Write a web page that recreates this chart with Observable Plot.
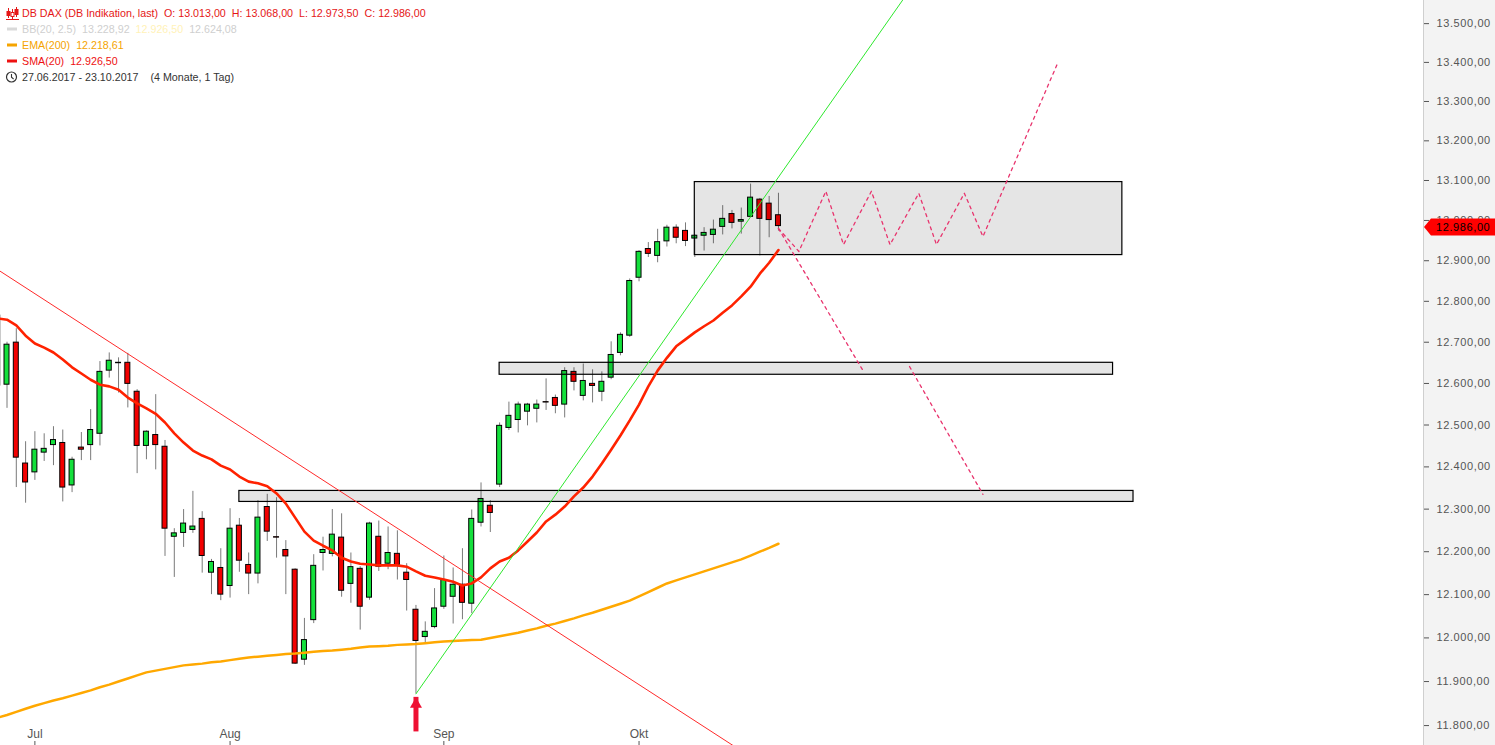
<!DOCTYPE html>
<html>
<head>
<meta charset="utf-8">
<script src="https://cdn.jsdelivr.net/npm/d3@7"></script>
<script src="https://cdn.jsdelivr.net/npm/@observablehq/plot@0.6"></script>
<style>
  body { margin: 0; background: #fff; font-family: "Liberation Sans", Arial, sans-serif; }
  #wrap { position: relative; width: 1495px; height: 745px; overflow: hidden; }
  #legend { position: absolute; left: 0; top: 5px; font-size: 10.7px; line-height: 16px; white-space: nowrap; }
  #legend .row { height: 16px; display: flex; align-items: center; }
  #legend .ic { width: 22px; height: 16px; flex: none; }
  #legend span + span { margin-left: 6px; }
  g[aria-label="y-axis tick label"] text { letter-spacing: 0.6px; }
</style>
</head>
<body>
<div id="wrap"><div id="chart"></div><div id="legend"></div></div>
<script>
// ---------- data ----------
const startDate = "2017-06-27", endDate = "2017-10-23";
const monthNames = ["Jan","Feb","Mär","Apr","Mai","Jun","Jul","Aug","Sep","Okt","Nov","Dez"];

const open  = [12765,12597,12699,12408,12387,12434,12452,12457,12356,12446,12452,12479,12631,12650,12650,12580,12450,12476,12448,12235,12244,12251,12277,12151,12162,12120,12261,12169,12149,12305,12234,12204,12158,11950,12041,12197,12195,12233,12125,12160,12093,12235,12172,12195,12151,12065,12002,12025,12072,12095,12123,12079,12268,12308,12358,12493,12512,12532,12539,12555,12565,12549,12628,12570,12599,12580,12614,12674,12716,12858,12929,12912,12948,12982,12974,12955,12962,12964,12984,13016,12997,13009,13052,13042,13013];
const high  = [12775,12700,12733,12460,12484,12479,12496,12488,12423,12482,12537,12653,12674,12662,12673,12585,12486,12573,12463,12254,12299,12342,12294,12182,12207,12301,12278,12197,12320,12335,12327,12226,12160,12045,12193,12234,12299,12289,12197,12165,12269,12272,12258,12249,12172,12075,12037,12114,12190,12162,12207,12298,12362,12320,12505,12555,12555,12552,12560,12611,12572,12638,12638,12647,12633,12628,12701,12723,12855,12925,12945,12978,12988,12989,12994,12964,12982,13001,13037,13025,13031,13091,13055,13060,13068];
const low   = [12560,12540,12351,12314,12368,12413,12403,12317,12339,12415,12415,12450,12613,12577,12541,12384,12417,12393,12189,12140,12210,12243,12150,12100,12086,12092,12152,12100,12125,12224,12185,12100,11939,11937,12033,12155,12188,12094,12080,12018,12087,12154,12158,12134,12062,11872,11988,12021,12066,12032,12042,12056,12258,12245,12351,12487,12481,12498,12505,12535,12527,12517,12582,12558,12553,12556,12609,12667,12712,12848,12908,12895,12934,12942,12935,12908,12924,12942,12964,12979,12966,13007,12912,12957,12973.5];
const close = [12595,12694,12422,12363,12441,12443,12464,12351,12417,12441,12488,12628,12655,12649,12599,12450,12484,12452,12254,12243,12266,12259,12190,12176,12100,12254,12179,12149,12280,12247,12233,12189,11941,11995,12167,12204,12240,12109,12164,12072,12266,12165,12197,12169,12134,11993,12014,12068,12134,12123,12081,12277,12324,12291,12498,12522,12549,12549,12549,12554,12546,12630,12604,12606,12594,12604,12669,12718,12850,12922,12917,12946,12982,12957,12949,12962,12969,12977,13004,12994,13001,13057,13004,13001,12986];
const sma20 = [12758,12755,12741,12716,12697,12687,12675,12658,12639,12624,12609,12597,12593,12585,12566,12552,12540,12527,12506,12480,12458,12439,12427,12418,12403,12394,12377,12365,12361,12354,12337,12313,12280,12247,12226,12214,12203,12186,12177,12172,12170,12168,12168,12168,12165,12154,12144,12140,12135,12130,12121,12126,12140,12161,12177,12186,12203,12224,12245,12271,12287,12306,12330,12351,12377,12408,12441,12475,12511,12549,12593,12631,12662,12690,12707,12724,12739,12753,12772,12790,12812,12836,12868,12895,12926.5];
const ema200 = [11818,11824,11831,11838,11845,11851,11857,11862,11868,11874,11880,11887,11893,11900,11907,11914,11921,11925,11929,11933,11937,11939,11941,11944,11946,11949,11952,11955,11957,11959,11961,11963,11964,11966,11968,11970,11971,11973,11975,11978,11980,11981,11982,11984,11985,11986,11988,11990,11992,11993,11994,11995,11996,12000,12004,12008,12012,12017,12022,12028,12033,12039,12045,12052,12058,12065,12072,12079,12086,12096,12106,12116,12126,12133,12140,12147,12154,12161,12168,12175,12182,12191,12200,12209,12218.61];
const bbValues = [13228.92, 12926.50, 12624.08];

// annotations (day index, price)
const boxX1 = [75, 54, 26];
const boxX2 = [121, 120, 122.2];
const boxLow = [12914, 12621, 12317];
const boxHigh = [13096, 12650, 12343];
const resistX = [0, 80], resistY = [12878, 11743];
const supportX = [45, 98], supportY = [11872, 13583];
const zigX = [84, 86.2, 89.1, 91, 94, 96, 99.1, 101, 104, 106, 114];
const zigY = [12980, 12923, 13073, 12940, 13073, 12940, 13068, 12940, 13068, 12960, 13396];
const drop1X = [84, 93.1], drop1Y = [12980, 12631];
const drop2X = [98.1, 106], drop2Y = [12641, 12335];
const arrowIdx = 45, arrowTip = 11864, arrowTail = 11806;
const yTicks = d3.range(11800, 13501, 100);

// ---------- derived ----------
const dates = [];
for (let d = new Date(startDate + "T00:00:00Z"); d <= new Date(endDate + "T00:00:00Z"); d.setUTCDate(d.getUTCDate() + 1)) {
  const w = d.getUTCDay();
  if (w !== 0 && w !== 6) dates.push(new Date(d));
}
const monthTicks = dates.map((d, i) => i).filter(i => i > 0 && dates[i].getUTCMonth() !== dates[i - 1].getUTCMonth());
const candles = open.map((o, i) => ({i, open: o, high: high[i], low: low[i], close: close[i]}));
const smaData = sma20.map((v, i) => ({i, v}));
const emaData = ema200.map((v, i) => ({i, v}));
const boxes = boxX1.map((x, k) => ({x1: x, x2: boxX2[k], y1: boxLow[k], y2: boxHigh[k]}));
const pts = (xs, ys) => xs.map((x, k) => ({x, y: ys[k]}));
const de = d3.formatLocale({decimal: ",", thousands: ".", grouping: [3], currency: ["", " €"]});
const fmt = de.format(",.2f");

const up = "#14e03c", down = "#f20000";
const dashCol = "#e8336d";

const plot = Plot.plot({
  width: 1495, height: 745,
  marginTop: 0, marginRight: 72, marginBottom: 0, marginLeft: 0,
  style: {fontFamily: '"Liberation Sans", Arial, sans-serif', fontSize: "11px",
          background: "linear-gradient(to right, #fff 1424px, #f3f3f3 1424px)"},
  x: {type: "linear", domain: [0.3, 153.4]},
  y: {type: "log", domain: [11755, 13560]},
  marks: [
    Plot.ruleX(candles, {x: "i", y1: "low", y2: "high", stroke: "#7a7a7a", strokeWidth: 1}),
    Plot.rect(candles, {x1: d => d.i - 0.5, x2: d => d.i + 0.5, insetLeft: 2.15, insetRight: 2.15,
      y1: "open", y2: "close", fill: d => d.close > d.open ? up : down, stroke: "#000", strokeWidth: 1}),
    Plot.rect(boxes, {x1: "x1", x2: "x2", y1: "y1", y2: "y2", fill: "#000", fillOpacity: 0.1, stroke: "#000", strokeWidth: 1.2}),
    Plot.line(emaData, {x: "i", y: "v", stroke: "#ffa800", strokeWidth: 2.5}),
    Plot.line(smaData, {x: "i", y: "v", stroke: "#ff2200", strokeWidth: 2.6}),
    Plot.line(pts(resistX, resistY), {x: "x", y: "y", stroke: "#ff2a2a", strokeWidth: 1, clip: true}),
    Plot.line(pts(supportX, supportY), {x: "x", y: "y", stroke: "#2ee82e", strokeWidth: 1, clip: true}),
    Plot.line(pts(zigX, zigY), {x: "x", y: "y", stroke: dashCol, strokeWidth: 1.3, strokeDasharray: "3,4"}),
    Plot.line(pts(drop1X, drop1Y), {x: "x", y: "y", stroke: dashCol, strokeWidth: 1.3, strokeDasharray: "3,4"}),
    Plot.line(pts(drop2X, drop2Y), {x: "x", y: "y", stroke: dashCol, strokeWidth: 1.3, strokeDasharray: "3,4"}),
    Plot.ruleX([{i: arrowIdx, tip: arrowTip, tail: arrowTail}], {x: "i", y1: "tail", y2: "tip", insetTop: 9, stroke: "#ee1133", strokeWidth: 5}),
    Plot.dot([{i: arrowIdx, tip: arrowTip}], {x: "i", y: "tip", symbol: "triangle", r: 4.46, dy: 6.93, fill: "#ee1133", stroke: "none"}),
    Plot.ruleX([153.4], {stroke: "#cfcfcf", strokeWidth: 1}),
    Plot.axisY(yTicks, {anchor: "right", tickSize: 5, tickPadding: 8, tickFormat: fmt, color: "#555", fontSize: 11}),
    Plot.axisX(monthTicks, {anchor: "bottom", tickSize: 4, tickPadding: -16, dy: -4,
      tickFormat: i => monthNames[dates[i].getUTCMonth()], color: "#555", fontSize: 12})
  ]
});
document.getElementById("chart").appendChild(plot);

// current price tag on the y axis
const ys = plot.scale("y");
const yScale = ys.apply ? ys.apply : d3.scaleLog(ys.domain, ys.range);
const last = close[close.length - 1];
const yc = yScale(last) + 1.5;
const svg = d3.select(plot);
const tag = svg.append("g");
tag.append("path").attr("d", `M1424,${yc}L1431,${yc - 8.5}H1495V${yc + 8.5}H1431Z`).attr("fill", "#ff0000");
tag.append("text").attr("x", 1436).attr("y", yc).attr("dy", "0.35em").attr("fill", "#000")
  .attr("text-anchor", "start").style("font-size", "11px").style("letter-spacing", "0.6px").text(fmt(last));

// legend overlay
const n = close.length - 1;
const legend = d3.select("#legend");
function row(icon, color, parts) {
  const r = legend.append("div").attr("class", "row").style("color", color);
  r.append("div").attr("class", "ic").html(icon);
  parts.forEach(p => r.append("span").style("color", p.c || null).text(p.t));
}
const candleIcon = `<svg width="22" height="16"><g stroke="#e51616" fill="none" stroke-width="1">
  <line x1="8.5" y1="3" x2="8.5" y2="13"/><rect x="7" y="6.5" width="3" height="4" fill="#e51616"/>
  <line x1="12.5" y1="4" x2="12.5" y2="14"/><rect x="11" y="7.5" width="3" height="4" fill="#fff"/>
  <line x1="16.5" y1="2" x2="16.5" y2="12"/><rect x="15" y="4.5" width="3" height="5" fill="#e51616"/>
  <line x1="6" y1="14.5" x2="19" y2="14.5"/></g></svg>`;
const bar = c => `<svg width="22" height="16"><rect x="7" y="6.5" width="10" height="3" fill="${c}"/></svg>`;
const clock = `<svg width="22" height="16"><circle cx="11.5" cy="8" r="5" fill="none" stroke="#333" stroke-width="1.2"/>
  <path d="M11.5 5V8.3L13.6 10" fill="none" stroke="#333" stroke-width="1.1"/></svg>`;
row(candleIcon, "#e51616", [
  {t: "DB DAX (DB Indikation, last)"},
  {t: "O: " + fmt(open[n])}, {t: "H: " + fmt(high[n])}, {t: "L: " + fmt(low[n])}, {t: "C: " + fmt(close[n])}
]);
row(bar("#d9d9d9"), "#cfcfcf", [
  {t: "BB(20, 2.5)"}, {t: fmt(bbValues[0])}, {t: fmt(bbValues[1]), c: "#fff2b8"}, {t: fmt(bbValues[2])}
]);
row(bar("#f5a400"), "#f5a400", [{t: "EMA(200)"}, {t: fmt(ema200[n])}]);
row(bar("#ee1111"), "#ee1111", [{t: "SMA(20)"}, {t: fmt(sma20[n])}]);
const f2 = d3.utcFormat("%d.%m.%Y");
row(clock, "#333", [{t: f2(dates[0]) + " - " + f2(dates[n])}, {t: "\u00a0\u00a0(4 Monate, 1 Tag)"}]);
</script>
</body>
</html>
